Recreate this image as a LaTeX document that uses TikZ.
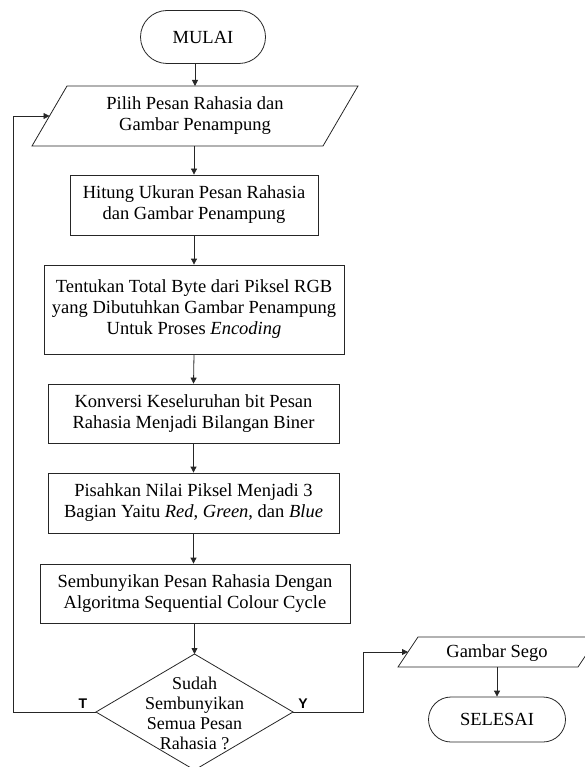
\documentclass[tikz,border=0pt]{standalone}
\usepackage{fontspec}
\setmainfont{Liberation Serif}
\newfontfamily\labfont{Liberation Sans}
\usetikzlibrary{arrows.meta}
\begin{document}
\begin{tikzpicture}[x=1pt,y=-1pt,
  every node/.style={font=\fontsize{18.5}{21}\selectfont, align=center, inner sep=0pt},
  line/.style={draw=black!85, line width=0.8pt},
  arr/.style={line, -{Triangle[width=6pt,length=6pt]}},
  boxnode/.style={draw=black!85, line width=0.8pt, rectangle},
  termnode/.style={draw=black!85, line width=0.8pt, rectangle},
  lab/.style={font=\labfont\bfseries\fontsize{14}{16}\selectfont}
]
\useasboundingbox (0,0) rectangle (585,767);

% start
\node[termnode, minimum width=125pt, minimum height=53pt, rounded corners=26.5pt] (mulai) at (203,37) {MULAI};

% input parallelogram
\coordinate (p1) at (67,86);
\coordinate (p2) at (358,86);
\coordinate (p3) at (323,146);
\coordinate (p4) at (32,146);
\draw[line] (p1) -- (p2) -- (p3) -- (p4) -- cycle;
\node (pilih) at (195,116) {Pilih Pesan Rahasia dan\\Gambar Penampung};
\coordinate (pilihT) at (195,86);
\coordinate (pilihB) at (194,146);
\coordinate (pilihL) at (49.5,116);

% process boxes
\node[boxnode, minimum width=248pt, minimum height=60pt] (b2) at (194,205) {Hitung Ukuran Pesan Rahasia\\dan Gambar Penampung};
\node[boxnode, minimum width=300pt, minimum height=89pt] (b3) at (194,309.5) {Tentukan Total Byte dari Piksel RGB\\yang Dibutuhkan Gambar Penampung\\Untuk Proses \textit{Encoding}};
\node[boxnode, minimum width=291pt, minimum height=59pt] (b4) at (193.5,413.5) {Konversi Keseluruhan bit Pesan\\Rahasia Menjadi Bilangan Biner};
\node[boxnode, minimum width=291pt, minimum height=60pt] (b5) at (193.5,503) {Pisahkan Nilai Piksel Menjadi 3\\Bagian Yaitu \textit{Red}, \textit{Green}, dan \textit{Blue}};
\node[boxnode, minimum width=310pt, minimum height=59pt] (b6) at (195,593.5) {Sembunyikan Pesan Rahasia Dengan\\Algoritma Sequential Colour Cycle};

% decision diamond
\coordinate (dT) at (194.5,654);
\coordinate (dR) at (293,712);
\coordinate (dB) at (194.5,770);
\coordinate (dL) at (96,712);
\draw[line] (dT) -- (dR) -- (dB) -- (dL) -- cycle;
\node[font=\fontsize{18}{20}\selectfont] (dec) at (194.5,713) {Sudah\\Sembunyikan\\Semua Pesan\\Rahasia ?};

% output parallelogram
\coordinate (s1) at (418,637);
\coordinate (s2) at (598,637);
\coordinate (s3) at (578,667);
\coordinate (s4) at (398,667);
\draw[line] (s1) -- (s2) -- (s3) -- (s4) -- cycle;
\node (sego) at (497,653) {Gambar Sego};
\coordinate (segoL) at (408,652);
\coordinate (segoB) at (497,667);

% end
\node[termnode, minimum width=137pt, minimum height=45pt, rounded corners=22.5pt] (selesai) at (497,719.5) {SELESAI};

% connectors
\draw[arr] (mulai.south -| pilihT) -- (pilihT);
\draw[arr] (pilihB) -- (b2.north);
\draw[arr] (b2.south) -- (b3.north);
\draw[arr] (b3.south) -- (b4.north);
\draw[arr] (b4.south) -- (b5.north);
\draw[arr] (b5.south) -- (b6.north -| b5.south);
\draw[arr] (b6.south -| dT) -- (dT);
\draw[arr] (dL) -- (13,712) -- (13,116) -- (pilihL);
\draw[arr] (dR) -- (363,712) -- (363,652) -- (segoL);
\draw[arr] (segoB) -- (selesai.north);

% labels
\node[lab] (tlab) at (83,704) {T};
\node[lab] (ylab) at (303,704) {Y};
\end{tikzpicture}
\end{document}
